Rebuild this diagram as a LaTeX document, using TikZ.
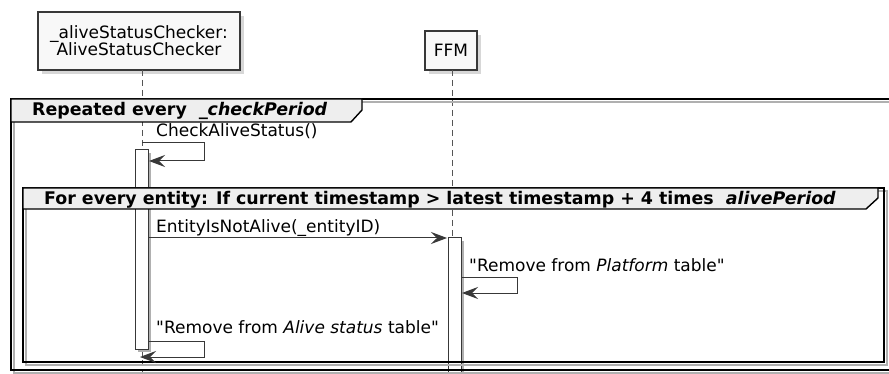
\documentclass[tikz,border=0pt]{standalone}
\usepackage{fontspec}
\setmainfont{DejaVu Sans}[Ligatures=TeXOff]
\usetikzlibrary{arrows.meta,shadows}
\definecolor{hdrfill}{HTML}{EEEEEE}
\definecolor{partfill}{HTML}{F8F8F8}
\definecolor{edge}{HTML}{383838}
\definecolor{lifeline}{HTML}{555555}
\definecolor{shadowc}{HTML}{B0B0B0}
\tikzset{
  part/.style={draw=edge, line width=1.2pt, fill=partfill, align=center, inner sep=0pt,
    drop shadow={shadow xshift=4pt, shadow yshift=-4pt, fill=shadowc}},
  lifeln/.style={draw=lifeline, line width=0.9pt, dash pattern=on 6pt off 4pt},
  activ/.style={draw=edge, line width=1pt, fill=white},
  activshadow/.style={fill=shadowc},
  framebox/.style={draw=black, line width=1.8pt},
  frameshadow/.style={draw=shadowc, line width=1.8pt},
  framehdr/.style={draw=black, line width=1.4pt, fill=hdrfill},
  msg/.style={draw=edge, line width=1pt, -{Stealth[length=16pt,width=12pt,inset=6pt]}},
  lbl/.style={anchor=base west, inner sep=0pt, text=black},
  hlbl/.style={anchor=base west, inner sep=0pt, text=black, font=\fontsize{17.4}{18}\selectfont\bfseries},
}
\begin{document}
\begin{tikzpicture}[x=1pt,y=-1pt, font=\fontsize{17}{17}\selectfont]
\useasboundingbox (0,0) rectangle (889,374);
\fill[white] (0,0) rectangle (889,374);

% participants
\node[part, minimum width=202pt, minimum height=58pt] (asc) at (139,41) {\_aliveStatusChecker:\\AliveStatusChecker};
\node[part, minimum width=52pt, minimum height=39pt] (ffm) at (451,50.5) {FFM};

% lifelines
\coordinate (l1t) at (142,70); \coordinate (l1b) at (142,374);
\coordinate (l2t) at (452,70); \coordinate (l2b) at (452,374);
\draw[lifeln] (l1t) -- (l1b);
\draw[lifeln] (l2t) -- (l2b);

% activations
\coordinate (a1nw) at (135,150); \coordinate (a1se) at (148,349);
\coordinate (a2nw) at (448,238); \coordinate (a2se) at (461,380);
\fill[activshadow] ([shift={(3,3)}]a1nw) rectangle ([shift={(3,3)}]a1se);
\draw[activ] (a1nw) rectangle (a1se);
\fill[activshadow] ([shift={(3,3)}]a2nw) rectangle ([shift={(3,3)}]a2se);
\draw[activ] (a2nw) rectangle (a2se);

% outer frame
\coordinate (f1nw) at (11,99); \coordinate (f1se) at (896,370);
\draw[frameshadow] ([shift={(3,3)}]f1nw) rectangle ([shift={(3,3)}]f1se);
\draw[framebox] (f1nw) rectangle (f1se);
\draw[framehdr] (11,99) -- (362,99) -- (362,110) -- (351,122) -- (11,122) -- cycle;
\node[hlbl] (h1) at (32,116) {Repeated every \ \textit{\_checkPeriod}};

% inner frame
\coordinate (f2nw) at (23,188); \coordinate (f2se) at (884,362);
\draw[frameshadow] ([shift={(3,3)}]f2nw) rectangle ([shift={(3,3)}]f2se);
\draw[framebox] (f2nw) rectangle (f2se);
\draw[framehdr] (23,188) -- (878,188) -- (878,198) -- (866,209) -- (23,209) -- cycle;
\node[hlbl] (h2) at (44,205) {For every entity: If current timestamp > latest timestamp + 4 times \ \textit{alivePeriod}};

% message 1: self CheckAliveStatus()
\coordinate (m1s) at (142,143); \coordinate (m1a) at (204,143);
\coordinate (m1b) at (204,161); \coordinate (m1e) at (149,161);
\draw[msg] (m1s) -- (m1a) -- (m1b) -- (m1e);
\node[lbl] (t1) at (156,137) {CheckAliveStatus()};

% message 2
\coordinate (m2s) at (148,238); \coordinate (m2e) at (447,238);
\draw[msg] (m2s) -- (m2e);
\node[lbl] (t2) at (156,233) {EntityIsNotAlive(\_entityID)};

% message 3: self on FFM
\coordinate (m3s) at (461,277); \coordinate (m3a) at (517,277);
\coordinate (m3b) at (517,293); \coordinate (m3e) at (462,293);
\draw[msg] (m3s) -- (m3a) -- (m3b) -- (m3e);
\node[lbl] (t3) at (469,272) {"Remove from \textit{Platform} table"};

% message 4: self on checker
\coordinate (m4s) at (148,341); \coordinate (m4a) at (204,341);
\coordinate (m4b) at (204,357); \coordinate (m4e) at (140,357);
\draw[msg] (m4s) -- (m4a) -- (m4b) -- (m4e);
\node[lbl] (t4) at (156,333) {"Remove from \textit{Alive status} table"};
\end{tikzpicture}
\end{document}
